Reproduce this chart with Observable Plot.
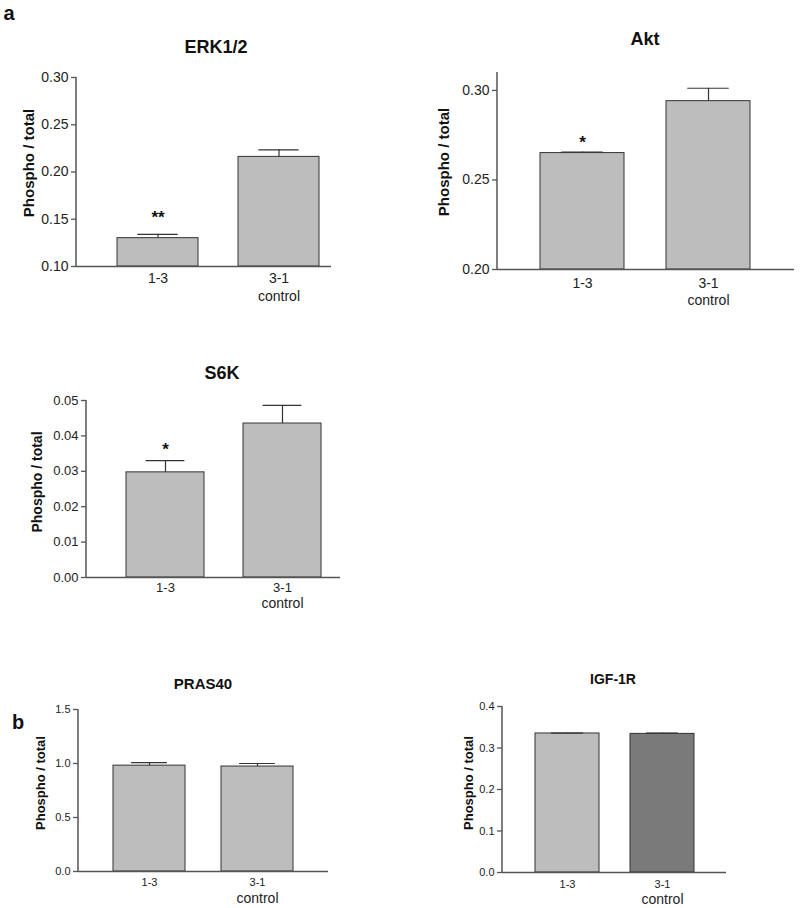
<!DOCTYPE html>
<html><head><meta charset="utf-8">
<script src="https://cdn.jsdelivr.net/npm/d3@7"></script>
<script src="https://cdn.jsdelivr.net/npm/@observablehq/plot@0.6"></script>
<style>
body{margin:0;background:#fff;font-family:"Liberation Sans",Arial,sans-serif;}
#root{position:relative;width:800px;height:908px;overflow:hidden;background:#fff;}
.panel{position:absolute;}
.t{position:absolute;font-weight:bold;transform:translate(-50%,-50%);white-space:nowrap;color:#111;line-height:1;}
.yl{position:absolute;font-weight:bold;transform:translate(-50%,-50%) rotate(-90deg);white-space:nowrap;color:#111;line-height:1;}
</style></head><body><div id="root"></div>
<script>
// ---- data ----
const groups = ["1-3", "3-1"];
const subLabels = ["", "control"];
const yLabel = "Phospho / total";

const erkMean = [0.130, 0.216];
const erkErr  = [0.004, 0.0075];
const erkStars = ["**", ""];
const erkTicks = [0.10, 0.15, 0.20, 0.25, 0.30];

const aktMean = [0.265, 0.294];
const aktErr  = [0.0006, 0.0072];
const aktStars = ["*", ""];
const aktTicks = [0.20, 0.25, 0.30];

const s6kMean = [0.0297, 0.0435];
const s6kErr  = [0.0033, 0.0051];
const s6kStars = ["*", ""];
const s6kTicks = [0.00, 0.01, 0.02, 0.03, 0.04, 0.05];

const prasMean = [0.980, 0.972];
const prasErr  = [0.028, 0.028];
const prasStars = ["", ""];
const prasTicks = [0.0, 0.5, 1.0, 1.5];

const igfMean = [0.335, 0.334];
const igfErr  = [0.001, 0.002];
const igfStars = ["", ""];
const igfTicks = [0.0, 0.1, 0.2, 0.3, 0.4];

// ---- layout / style ----
const light = "#bdbdbd", dark = "#7a7a7a";
const panels = [
  {name:"ERK1/2", mean:erkMean, err:erkErr, stars:erkStars, ticks:erkTicks, fmt:".2f", domain:[0.10,0.30],
   left:0, top:60, width:340, height:250, mt:17, mb:44, ml:76, mr:9, po:0.214, align:0.77,
   fills:[light, light], fs:14, tickPad:7, subDy:30, subFs:14, starDy:-17,
   title:[216,47,18], ylab:[28,163,15]},
  {name:"Akt", mean:aktMean, err:aktErr, stars:aktStars, ticks:aktTicks, fmt:".2f", domain:[0.20,0.31],
   left:400, top:60, width:400, height:253, mt:12, mb:44, ml:97, mr:6, po:0.335, align:0.5,
   fills:[light, light], fs:14, tickPad:9, subDy:31, subFs:14, starDy:-9,
   title:[645,39,18], ylab:[443,162,15]},
  {name:"S6K", mean:s6kMean, err:s6kErr, stars:s6kStars, ticks:s6kTicks, fmt:".2f", domain:[0,0.05],
   left:0, top:380, width:350, height:241, mt:20, mb:44, ml:86, mr:10, po:0.25, align:0.684,
   fills:[light, light], fs:13, tickPad:5, subDy:26, subFs:14, starDy:-11,
   title:[222,373,18], ylab:[37,482,14]},
  {name:"PRAS40", mean:prasMean, err:prasErr, stars:prasStars, ticks:prasTicks, fmt:".1f", domain:[0,1.5],
   left:0, top:695, width:340, height:213, mt:14, mb:37, ml:78, mr:12, po:0.322, align:0.504,
   fills:[light, light], fs:11, tickPad:7, subDy:27, subFs:14, starDy:-10,
   title:[203,683,15], ylab:[40,783,13]},
  {name:"IGF-1R", mean:igfMean, err:igfErr, stars:igfStars, ticks:igfTicks, fmt:".1f", domain:[0,0.4],
   left:400, top:695, width:400, height:213, mt:11, mb:36, ml:102, mr:74, po:0.333, align:0.5,
   fills:[light, dark], fs:11, tickPad:8, subDy:27, subFs:14, starDy:-10,
   title:[613,679,14], ylab:[468,783,13]}
];
const pInner = 0.33;
const root = document.getElementById("root");

function addText(cls, txt, x, y, fs){
  const d = document.createElement("div");
  d.className = cls; d.textContent = txt;
  d.style.left = x + "px"; d.style.top = y + "px"; d.style.fontSize = fs + "px";
  root.appendChild(d);
}

for (const c of panels) {
  const data = groups.map((g, i) => ({g, v: c.mean[i], hi: c.mean[i] + c.err[i], star: c.stars[i], sub: subLabels[i], fill: c.fills[i]}));
  const T = c.width - c.ml - c.mr;
  const step = T / (2 - pInner + 2 * c.po);
  const bw = step * (1 - pInner);
  const cap = bw / 4;
  const font = "'Liberation Sans', Arial, sans-serif";
  const plot = Plot.plot({
    width: c.width, height: c.height,
    marginTop: c.mt, marginBottom: c.mb, marginLeft: c.ml, marginRight: c.mr,
    style: {fontFamily: font, fontSize: c.fs + "px", color: "#222", background: "transparent", overflow: "visible"},
    x: {type: "band", domain: groups, paddingInner: pInner, paddingOuter: c.po, align: c.align},
    y: {domain: c.domain},
    color: {type: "identity"},
    marks: [
      Plot.axisY({ticks: c.ticks, tickFormat: d3.format(c.fmt), tickSize: 5, tickPadding: 3, label: null, stroke: "#555", strokeWidth: 1.3, fill: "#222", fontSize: c.fs}),
      Plot.axisX({tickSize: 0, tickPadding: c.tickPad, label: null, fill: "#222", fontSize: c.fs}),
      Plot.barY(data, {x: "g", y1: c.domain[0], y2: "v", fill: "fill", stroke: "#333", strokeWidth: 1}),
      Plot.ruleX(data, {x: "g", y1: "v", y2: "hi", stroke: "#333", strokeWidth: 1.2}),
      Plot.tickY(data, {x: "g", y: "hi", stroke: "#333", strokeWidth: 1.2, insetLeft: cap, insetRight: cap}),
      Plot.ruleY([c.domain[0]], {stroke: "#555", strokeWidth: 1.5}),
      Plot.text(data, {x: "g", y: "hi", text: "star", dy: c.starDy, fontSize: 17, fontWeight: "bold", fill: "#111"}),
      Plot.text(data, {x: "g", text: "sub", frameAnchor: "bottom", lineAnchor: "middle", dy: c.subDy, fontSize: c.subFs, fill: "#222"})
    ]
  });
  // y-axis line drawn from the plot's own scales
  const xs = plot.scale("x"), ys = plot.scale("y");
  d3.select(plot).append("line")
    .attr("x1", xs.range[0]).attr("x2", xs.range[0])
    .attr("y1", ys.range[0]).attr("y2", ys.range[1])
    .attr("stroke", "#555").attr("stroke-width", 1.5);
  const div = document.createElement("div");
  div.className = "panel";
  div.style.left = c.left + "px"; div.style.top = c.top + "px";
  div.style.width = c.width + "px"; div.style.height = c.height + "px";
  div.appendChild(plot);
  root.appendChild(div);
  addText("t", c.name, c.title[0], c.title[1], c.title[2]);
  addText("yl", yLabel, c.ylab[0], c.ylab[1], c.ylab[2]);
}
addText("t", "a", 9, 13, 20);
addText("t", "b", 18, 722, 20);
</script></body></html>
